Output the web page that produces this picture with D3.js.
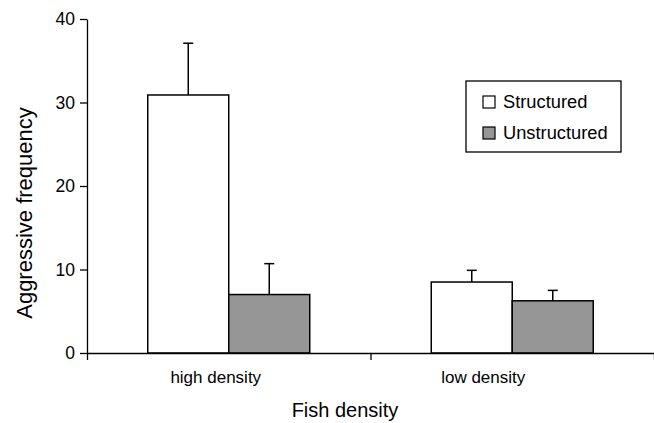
<!DOCTYPE html>
<html>
<head>
  <script src="https://cdnjs.cloudflare.com/ajax/libs/d3/7.8.5/d3.min.js" type="text/javascript"></script>
  <style>
    body { margin: 0; background: #fff; }
    svg { font-family: "Liberation Sans", Arial, sans-serif; }
  </style>
</head>
<body>
  <svg id="chart" width="654" height="423"></svg>
  <script>
    // data
    var densities = ["high density", "low density"];
    var habitats = ["Structured", "Unstructured"];
    var structuredMean = [30.9, 8.5];
    var structuredErr = [37.1, 9.9];
    var unstructuredMean = [7.0, 6.25];
    var unstructuredErr = [10.7, 7.5];
    var yTicks = [0, 10, 20, 30, 40];

    var colors = { "Structured": "#ffffff", "Unstructured": "#969696" };

    var rows = [];
    densities.forEach(function(d, i) {
      rows.push({ density: d, habitat: "Structured", mean: structuredMean[i], top: structuredErr[i] });
      rows.push({ density: d, habitat: "Unstructured", mean: unstructuredMean[i], top: unstructuredErr[i] });
    });

    var svg = d3.select("#chart");
    var m = { left: 87, right: 654, top: 19, bottom: 353 };

    var y = d3.scaleLinear().domain([0, 40]).range([m.bottom, m.top]);
    var x = d3.scaleBand().domain(densities).range([m.left, m.right]).padding(0);
    var xs = d3.scaleBand().domain(habitats).range([0, 162]);
    var groupOffset = (x.bandwidth() - 162) / 2;

    // bars
    svg.append("g").selectAll("rect")
      .data(rows)
      .enter().append("rect")
      .attr("x", d => x(d.density) + groupOffset + xs(d.habitat))
      .attr("y", d => y(d.mean))
      .attr("width", xs.bandwidth())
      .attr("height", d => y(0) - y(d.mean))
      .style("fill", d => colors[d.habitat])
      .style("stroke", "#000")
      .style("stroke-width", "1.5px");

    // error bars (upper only)
    var err = svg.append("g").selectAll("g")
      .data(rows)
      .enter().append("g")
      .attr("transform", d => "translate(" + (x(d.density) + groupOffset + xs(d.habitat) + xs.bandwidth() / 2) + ",0)");
    err.append("line")
      .attr("x1", 0).attr("x2", 0)
      .attr("y1", d => y(d.mean)).attr("y2", d => y(d.top))
      .style("stroke", "#000").style("stroke-width", "1.5px");
    err.append("line")
      .attr("x1", -5).attr("x2", 5)
      .attr("y1", d => y(d.top)).attr("y2", d => y(d.top))
      .style("stroke", "#000").style("stroke-width", "1.5px");

    // y axis
    var yAxis = svg.append("g")
      .attr("transform", "translate(" + m.left + ",0)")
      .call(d3.axisLeft(y).tickValues(yTicks).tickSize(7).tickSizeOuter(0).tickPadding(5));
    yAxis.selectAll("path, line").style("stroke", "#000").style("stroke-width", "1.3px");
    yAxis.selectAll("text").style("font-size", "17.5px").style("fill", "#000").style("font-family", "'Liberation Sans', Arial, sans-serif");

    // x axis: ticks on category boundaries
    var xb = d3.scaleLinear().domain([0, densities.length]).range([m.left, m.right]);
    var xAxis = svg.append("g")
      .attr("transform", "translate(0," + m.bottom + ")")
      .call(d3.axisBottom(xb).tickValues([0, 1, 2]).tickFormat("").tickSize(7).tickSizeOuter(0));
    xAxis.selectAll("path, line").style("stroke", "#000").style("stroke-width", "1.3px");

    // category labels
    var labelShift = [-13, -29];
    svg.append("g").selectAll("text")
      .data(densities)
      .enter().append("text")
      .attr("x", (d, i) => x(d) + x.bandwidth() / 2 + labelShift[i])
      .attr("y", 383)
      .attr("text-anchor", "middle")
      .style("font-size", "17px")
      .text(d => d);

    // axis titles
    svg.append("text")
      .attr("x", 345).attr("y", 417)
      .attr("text-anchor", "middle")
      .style("font-size", "20px")
      .text("Fish density");

    svg.append("text")
      .attr("transform", "translate(32,213) rotate(-90)")
      .attr("text-anchor", "middle")
      .style("font-size", "22px")
      .text("Aggressive frequency");

    // legend
    var legend = svg.append("g").attr("transform", "translate(466,81)");
    legend.append("rect")
      .attr("width", 155).attr("height", 71)
      .style("fill", "#fff").style("stroke", "#000").style("stroke-width", "1.3px");
    var items = legend.selectAll("g.item")
      .data(habitats)
      .enter().append("g")
      .attr("class", "item")
      .attr("transform", (d, i) => "translate(17," + (15 + i * 31) + ")");
    items.append("rect")
      .attr("width", 12).attr("height", 12)
      .style("fill", d => colors[d])
      .style("stroke", "#000").style("stroke-width", "1.2px");
    items.append("text")
      .attr("x", 20).attr("y", 12)
      .style("font-size", "18.3px")
      .text(d => d);
  </script>
</body>
</html>
